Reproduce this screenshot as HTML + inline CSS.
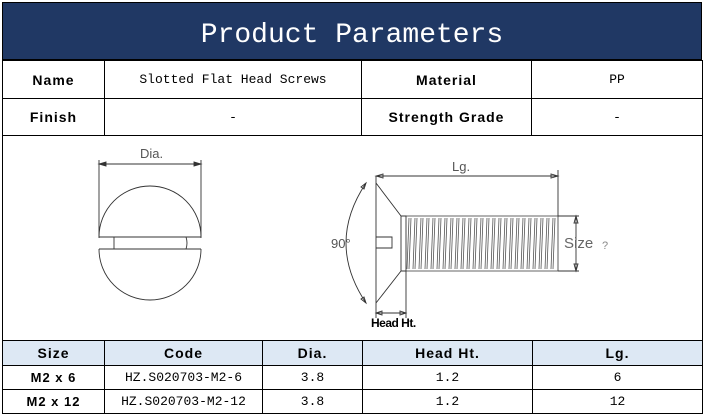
<!DOCTYPE html>
<html><head><style>
body{margin:0;background:#fff;width:706px;height:420px;overflow:hidden;position:relative;font-family:"Liberation Mono",monospace}
.t{position:absolute;left:2px;top:2px;width:700px;height:58px;background:#203864;border:1px solid #000;box-sizing:border-box;color:#fff;font-family:"Liberation Mono",monospace;font-size:28px;text-align:center;line-height:66px}
table{position:absolute;border-collapse:collapse;left:2px;width:701px;table-layout:fixed}
td{border:1.5px solid #000;text-align:center;font-size:13px;padding:0;color:#000}
.b{font-weight:bold;font-family:"Liberation Sans",sans-serif;letter-spacing:1px;font-size:14px}
.h td{background:#dde8f4;font-weight:bold;font-family:"Liberation Sans",sans-serif;font-size:14px;letter-spacing:1px}
</style></head><body>
<div class="t">Product Parameters</div>
<table style="top:60px">
<col style="width:102px"><col style="width:257px"><col style="width:170px"><col>
<tr style="height:38px"><td class="b">Name</td><td>Slotted Flat Head Screws</td><td class="b">Material</td><td>PP</td></tr>
<tr style="height:37px"><td class="b">Finish</td><td>-</td><td class="b">Strength Grade</td><td>-</td></tr>
<tr style="height:206px"><td colspan="4"></td></tr>
</table>
<table style="top:340px">
<col style="width:102px"><col style="width:158px"><col style="width:100px"><col style="width:170px"><col>
<tr class="h" style="height:25px"><td>Size</td><td>Code</td><td>Dia.</td><td>Head Ht.</td><td>Lg.</td></tr>
<tr style="height:24px"><td class="b" style="font-size:13px">M2 x 6</td><td>HZ.S020703-M2-6</td><td>3.8</td><td>1.2</td><td>6</td></tr>
<tr style="height:24px"><td class="b" style="font-size:13px">M2 x 12</td><td>HZ.S020703-M2-12</td><td>3.8</td><td>1.2</td><td>12</td></tr>
</table>
<svg style="position:absolute;left:0;top:0" width="706" height="420" stroke="#333" fill="none" stroke-width="0.9">
<path d="M99 160V238M201 160V238M99 164H201"/>
<path d="M99 164l7-2v4zM201 164l-7-2v4z" fill="#333"/>
<text x="140" y="158" font-family="Liberation Sans" font-size="13" fill="#555" stroke="none">Dia.</text>
<path d="M99 237A51 51 0 0 1 201 237M99 249A51 51 0 0 0 201 249M99 237H201M99 249H201M114 237V249M186 237Q188 243 186 249"/>
<path d="M376 183V303M376 183L401 216M376 303L401 271M401 216V271M376 237H392V248H376"/>
<path d="M401 216H406V271H401"/>
<path d="M406 216H558V271H406" stroke-width="0.8"/>
<path d="M376 176V183M558 170V216M376 176H558M376 176l7-2v4zM558 176l-7-2v4z"/>
<text x="452" y="171" font-family="Liberation Sans" font-size="13" fill="#555" stroke="none">Lg.</text>
<path d="M558 216H579M558 271H579M576 216V271M576 216l-2 7h4zM576 271l-2-7h4z"/>
<text x="564" y="248" font-family="Liberation Sans" font-size="15" fill="#666" stroke="none">Size</text>
<text x="602" y="249" font-family="Liberation Sans" font-size="11" fill="#888" stroke="none">?</text>
<path d="M366 183Q326 243 366 303M366 183l-5 4 3 2zM366 303l-5-4 3-2z"/>
<text x="331" y="248" font-family="Liberation Sans" font-size="13" fill="#555" stroke="none">90°</text>
<path d="M376 303V318M406 271V318M376 313H406M376 313l6-2v4zM406 313l-6-2v4z"/>
<text x="371" y="327" font-family="Liberation Sans" font-size="12" font-weight="bold" fill="#000" stroke="none" letter-spacing="-0.5">Head Ht.</text>
<g stroke-width="0.8" stroke="#555">
<path d="M409 218l-2 51M415 218l-2 51M421 218l-2 51M427 218l-2 51M433 218l-2 51M439 218l-2 51M445 218l-2 51M451 218l-2 51M457 218l-2 51M463 218l-2 51M469 218l-2 51M475 218l-2 51M481 218l-2 51M487 218l-2 51M493 218l-2 51M499 218l-2 51M505 218l-2 51M511 218l-2 51M517 218l-2 51M523 218l-2 51M529 218l-2 51M535 218l-2 51M541 218l-2 51M547 218l-2 51M553 218l-2 51"/>
<path d="M411 218l-2 51M417 218l-2 51M423 218l-2 51M429 218l-2 51M435 218l-2 51M441 218l-2 51M447 218l-2 51M453 218l-2 51M459 218l-2 51M465 218l-2 51M471 218l-2 51M477 218l-2 51M483 218l-2 51M489 218l-2 51M495 218l-2 51M501 218l-2 51M507 218l-2 51M513 218l-2 51M519 218l-2 51M525 218l-2 51M531 218l-2 51M537 218l-2 51M543 218l-2 51M549 218l-2 51M555 218l-2 51"/>
</g>
</svg>
</body></html>
